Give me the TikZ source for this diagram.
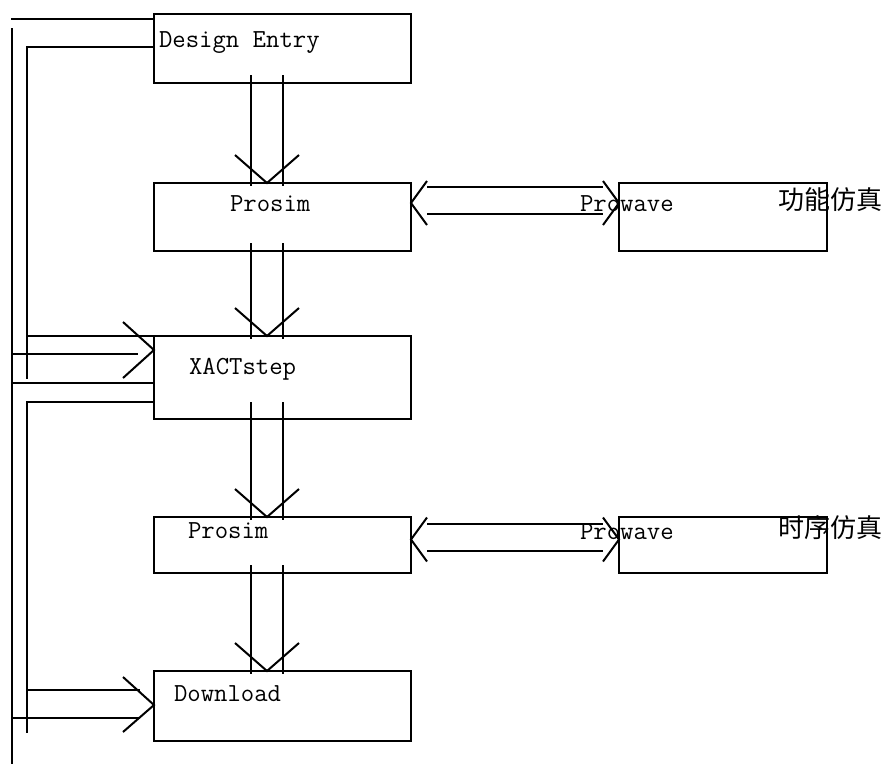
\documentclass[tikz,border=0pt]{standalone}
\usepackage{fontspec}
\newfontfamily\cjk{Noto Sans CJK SC}
\usetikzlibrary{calc}
\tikzset{
  box/.style={draw, line width=2pt, inner sep=0pt, outer sep=0pt, anchor=north west},
  lbl/.style={anchor=base west, inner sep=0pt, font=\fontsize{26}{30}\selectfont\ttfamily},
  zh/.style={anchor=base west, inner sep=0pt, font=\fontsize{26}{30}\selectfont\cjk},
}
\begin{document}
\begin{tikzpicture}[x=1pt, y=-1pt, line width=2pt]
\useasboundingbox (0,0) rectangle (887,764);
% boxes
\node[box, minimum width=257pt, minimum height=69pt] (entry) at (154,14) {};
\node[box, minimum width=257pt, minimum height=68pt] (prosimA) at (154,183) {};
\node[box, minimum width=208pt, minimum height=68pt] (prowaveA) at (619,183) {};
\node[box, minimum width=257pt, minimum height=83pt] (xact) at (154,336) {};
\node[box, minimum width=257pt, minimum height=56pt] (prosimB) at (154,517) {};
\node[box, minimum width=208pt, minimum height=56pt] (prowaveB) at (619,517) {};
\node[box, minimum width=257pt, minimum height=70pt] (download) at (154,671) {};
% texts
\node[lbl] (entryT) at ($(entry.north west)+(4,33)$) {Design Entry};
\node[lbl] (prosimAT) at ($(prosimA.north west)+(75,28)$) {Prosim};
\node[lbl] (prowaveAT) at ($(prowaveA.north west)+(-40,28)$) {Prowave};
\node[zh] (funcT) at ($(prowaveA.north west)+(158,26)$) {功能仿真};
\node[lbl] (xactT) at ($(xact.north west)+(34,38)$) {XACTstep};
\node[lbl] (prosimBT) at ($(prosimB.north west)+(33,21)$) {Prosim};
\node[lbl] (prowaveBT) at ($(prowaveB.north west)+(-40,22)$) {Prowave};
\node[zh] (timeT) at ($(prowaveB.north west)+(158,20)$) {时序仿真};
\node[lbl] (downloadT) at ($(download.north west)+(19,30)$) {Download};
% down the flow
\foreach \s/\t/\d in {entry/prosimA/8, prosimA/xact/8, xact/prosimB/17, prosimB/download/8} {
  \draw ($(\s.south west)+(97,-\d)$) -- ($(\t.north west)+(97,3)$);
  \draw ($(\s.south west)+(129,-\d)$) -- ($(\t.north west)+(129,3)$);
  \draw ($(\t.north west)+(81,-28)$) -- ($(\t.north west)+(113,0)$) -- ($(\t.north west)+(145,-28)$);
}
% to and from Prowave
\foreach \s/\t/\o in {prosimA/prowaveA/0, prosimB/prowaveB/2.5} {
  \draw ($(\s.north east)+(16,4+\o)$) -- ($(\t.north west)+(-16,4+\o)$);
  \draw ($(\s.north east)+(16,31+\o)$) -- ($(\t.north west)+(-16,31+\o)$);
  \draw ($(\s.north east)+(16,-2+\o)$) -- ($(\s.north east)+(0,20+\o)$) -- ($(\s.north east)+(16,42+\o)$);
  \draw ($(\t.north west)+(-16,-2+\o)$) -- ($(\t.north west)+(0,20+\o)$) -- ($(\t.north west)+(-16,42+\o)$);
}
% back from Design Entry to XACTstep
\draw ($(entry.north west)+(0,5)$) -- +(-143,0);
\draw (12,28) -- (12,415);
\draw (12,354) -- (138,354);
\draw ($(entry.north west)+(0,33)$) -| (27,379);
\draw (27,336) -- (xact.north west);
\draw ($(xact.north west)+(-31,-14)$) -- ($(xact.north west)+(0,14)$) -- ($(xact.north west)+(-31,42)$);
% back from XACTstep to Download
\draw ($(xact.north west)+(0,47)$) -| (12,764);
\draw ($(xact.north west)+(0,66)$) -| (27,733);
\draw (27,690) -- (140,690);
\draw (12,718) -- (140,718);
\draw ($(download.north west)+(-31,6)$) -- ($(download.north west)+(0,34)$) -- ($(download.north west)+(-31,61)$);
\end{tikzpicture}
\end{document}
